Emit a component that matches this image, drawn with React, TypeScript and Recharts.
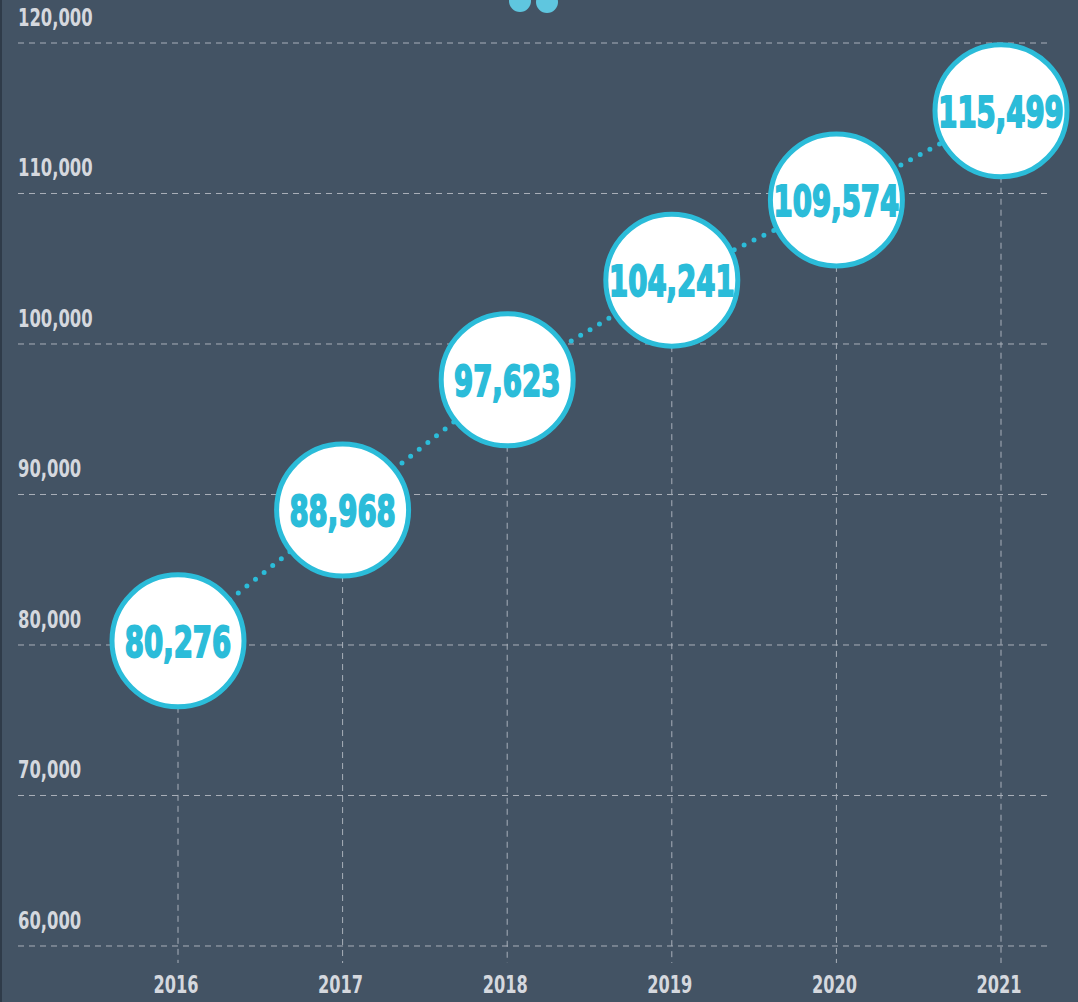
import React from 'react';
import { LineChart, Line, XAxis, YAxis, CartesianGrid } from 'recharts';

const years = ['2016', '2017', '2018', '2019', '2020', '2021'];
const visitors = [80276, 88968, 97623, 104241, 109574, 115499];
const yTicks = [60000, 70000, 80000, 90000, 100000, 110000, 120000];
const yDomain = [58870, 120000];

const CHART_W = 1076;
const CHART_H = 1002;
const XAXIS_H = 39;
const YAXIS_W = 16;
const PLOT_BOTTOM = CHART_H - XAXIS_H;

const BG = '#435364';
const CYAN = '#2bbcd9';
const GRID = '#a9b0ba';
const TICK = '#d5d8de';
const COND_FONT = '"DejaVu Sans Condensed", "DejaVu Sans", sans-serif';

const data = years.map((year, i) => ({ year, value: visitors[i] }));

// grid only at the labelled ticks (no extra line at the bottom edge)
const gridRows = ({ yAxis, offset }: any) => {
  if (yAxis && typeof yAxis.scale === 'function') return yTicks.map((t) => yAxis.scale(t));
  const [lo, hi] = yDomain;
  return yTicks.map((t) => offset.top + ((hi - t) / (hi - lo)) * offset.height);
};

const YTick = (props: any) => {
  const { x, y, payload } = props;
  return (
    <g transform={`translate(${x} ${y - 17}) scale(0.76 1)`}>
      <text x={0} y={0} textAnchor="start" fill={TICK} fontFamily={COND_FONT} fontWeight={700} fontSize={24}>
        {Number(payload.value).toLocaleString('en-US')}
      </text>
    </g>
  );
};

const XTick = (props: any) => {
  const { x, y, payload } = props;
  return (
    <g transform={`translate(${x - 2} ${y + 30}) scale(0.72 1)`}>
      <text x={0} y={0} textAnchor="middle" fill={TICK} fontFamily={COND_FONT} fontWeight={700} fontSize={25}>
        {payload.value}
      </text>
    </g>
  );
};

const Bubble = (props: any) => {
  const { cx, cy, value, index } = props;
  if (cx == null || cy == null) return null;
  return (
    <g key={`bubble-${index}`}>
      <line x1={cx} y1={cy} x2={cx} y2={PLOT_BOTTOM} stroke={GRID} strokeWidth={1} strokeDasharray="6 5" />
      <circle cx={cx} cy={cy} r={66} fill="#ffffff" stroke={CYAN} strokeWidth={5} />
      <g transform={`translate(${cx} ${cy}) scale(0.73 1)`}>
        <text
          x={0}
          y={16}
          textAnchor="middle"
          fill={CYAN}
          stroke={CYAN}
          strokeWidth={1.8}
          fontFamily={COND_FONT}
          fontWeight={700}
          fontSize={42}
        >
          {Number(value).toLocaleString('en-US')}
        </text>
      </g>
    </g>
  );
};

export default function App() {
  return (
    <div
      style={{
        position: 'absolute',
        left: 0,
        top: 0,
        width: 1078,
        height: 1002,
        background: BG,
        borderLeft: '2px solid #2f3b49',
        boxSizing: 'border-box',
        overflow: 'hidden',
      }}
    >
      <div style={{ position: 'absolute', left: 507, top: -10, width: 22, height: 22, borderRadius: 11, background: '#5fc6df' }} />
      <div style={{ position: 'absolute', left: 534, top: -9, width: 22, height: 22, borderRadius: 11, background: '#5fc6df' }} />
      <LineChart width={CHART_W} height={CHART_H} data={data} margin={{ top: 43, right: 31, left: 0, bottom: 0 }}>
        <CartesianGrid vertical={false} stroke={GRID} strokeDasharray="6 5" horizontalCoordinatesGenerator={gridRows} />
        <XAxis
          dataKey="year"
          scale="point"
          padding={{ left: 160, right: 46 }}
          height={XAXIS_H}
          axisLine={false}
          tickLine={false}
          tickSize={0}
          tickMargin={0}
          tick={<XTick />}
          interval={0}
        />
        <YAxis
          type="number"
          domain={yDomain}
          ticks={yTicks}
          width={YAXIS_W}
          axisLine={false}
          tickLine={false}
          tickSize={0}
          tickMargin={0}
          tick={<YTick />}
          interval={0}
        />
        <Line
          type="linear"
          dataKey="value"
          stroke={CYAN}
          strokeWidth={5}
          strokeDasharray="0 11"
          strokeLinecap="round"
          dot={(p: any) => <Bubble {...p} />}
          activeDot={false}
          isAnimationActive={false}
        />
      </LineChart>
    </div>
  );
}
